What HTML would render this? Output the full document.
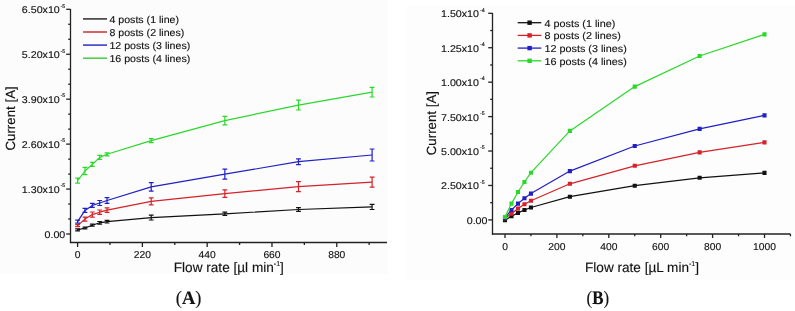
<!DOCTYPE html>
<html><head><meta charset="utf-8"><style>
html,body{margin:0;padding:0;background:#fff;width:795px;height:311px;overflow:hidden}
svg{display:block;will-change:transform;text-rendering:geometricPrecision}
.s text{stroke:#111;stroke-width:0.13px}
</style></head><body>
<svg class="s" width="795" height="311" viewBox="0 0 795 311">
<rect x="0" y="0" width="388" height="274.3" fill="#fcfcfc"/>
<rect x="406.3" y="6" width="389" height="274" fill="#fdfdfd"/>
<g stroke="#222" stroke-width="1.3" fill="none">
<line x1="70.5" y1="9" x2="70.5" y2="243.1"/>
<line x1="69.9" y1="242.5" x2="387" y2="242.5"/>
<line x1="66.2" y1="9.30" x2="70.5" y2="9.30"/>
<line x1="66.2" y1="54.24" x2="70.5" y2="54.24"/>
<line x1="66.2" y1="99.18" x2="70.5" y2="99.18"/>
<line x1="66.2" y1="144.12" x2="70.5" y2="144.12"/>
<line x1="66.2" y1="189.06" x2="70.5" y2="189.06"/>
<line x1="66.2" y1="234.00" x2="70.5" y2="234.00"/>
<line x1="68.2" y1="24.28" x2="70.5" y2="24.28"/>
<line x1="68.2" y1="39.26" x2="70.5" y2="39.26"/>
<line x1="68.2" y1="69.22" x2="70.5" y2="69.22"/>
<line x1="68.2" y1="84.20" x2="70.5" y2="84.20"/>
<line x1="68.2" y1="114.16" x2="70.5" y2="114.16"/>
<line x1="68.2" y1="129.14" x2="70.5" y2="129.14"/>
<line x1="68.2" y1="159.10" x2="70.5" y2="159.10"/>
<line x1="68.2" y1="174.08" x2="70.5" y2="174.08"/>
<line x1="68.2" y1="204.04" x2="70.5" y2="204.04"/>
<line x1="68.2" y1="219.02" x2="70.5" y2="219.02"/>
<line x1="77.60" y1="242.5" x2="77.60" y2="247.0"/>
<line x1="142.39" y1="242.5" x2="142.39" y2="247.0"/>
<line x1="207.18" y1="242.5" x2="207.18" y2="247.0"/>
<line x1="271.97" y1="242.5" x2="271.97" y2="247.0"/>
<line x1="336.76" y1="242.5" x2="336.76" y2="247.0"/>
<line x1="109.99" y1="242.5" x2="109.99" y2="245.0"/>
<line x1="174.78" y1="242.5" x2="174.78" y2="245.0"/>
<line x1="239.57" y1="242.5" x2="239.57" y2="245.0"/>
<line x1="304.37" y1="242.5" x2="304.37" y2="245.0"/>
<line x1="369.15" y1="242.5" x2="369.15" y2="245.0"/>
</g>
<text font-family="Liberation Sans, sans-serif" font-size="9.8" fill="#111" text-anchor="end" transform="translate(59.80,13.30) scale(1.09,1)">6.50x10</text>
<text font-family="Liberation Sans, sans-serif" font-size="5.3" fill="#111" text-anchor="end" transform="translate(65.30,7.60) scale(1.0,1)">-5</text>
<text font-family="Liberation Sans, sans-serif" font-size="9.8" fill="#111" text-anchor="end" transform="translate(59.80,58.24) scale(1.09,1)">5.20x10</text>
<text font-family="Liberation Sans, sans-serif" font-size="5.3" fill="#111" text-anchor="end" transform="translate(65.30,52.54) scale(1.0,1)">-5</text>
<text font-family="Liberation Sans, sans-serif" font-size="9.8" fill="#111" text-anchor="end" transform="translate(59.80,103.18) scale(1.09,1)">3.90x10</text>
<text font-family="Liberation Sans, sans-serif" font-size="5.3" fill="#111" text-anchor="end" transform="translate(65.30,97.48) scale(1.0,1)">-5</text>
<text font-family="Liberation Sans, sans-serif" font-size="9.8" fill="#111" text-anchor="end" transform="translate(59.80,148.12) scale(1.09,1)">2.60x10</text>
<text font-family="Liberation Sans, sans-serif" font-size="5.3" fill="#111" text-anchor="end" transform="translate(65.30,142.42) scale(1.0,1)">-5</text>
<text font-family="Liberation Sans, sans-serif" font-size="9.8" fill="#111" text-anchor="end" transform="translate(59.80,193.06) scale(1.09,1)">1.30x10</text>
<text font-family="Liberation Sans, sans-serif" font-size="5.3" fill="#111" text-anchor="end" transform="translate(65.30,187.36) scale(1.0,1)">-5</text>
<text font-family="Liberation Sans, sans-serif" font-size="9.8" fill="#111" text-anchor="end" transform="translate(65.30,238.00) scale(1.09,1)">0.00</text>
<text font-family="Liberation Sans, sans-serif" font-size="10.0" fill="#111" text-anchor="middle" transform="translate(77.60,258.00) scale(1.03,1)">0</text>
<text font-family="Liberation Sans, sans-serif" font-size="10.0" fill="#111" text-anchor="middle" transform="translate(142.39,258.00) scale(1.03,1)">220</text>
<text font-family="Liberation Sans, sans-serif" font-size="10.0" fill="#111" text-anchor="middle" transform="translate(207.18,258.00) scale(1.03,1)">440</text>
<text font-family="Liberation Sans, sans-serif" font-size="10.0" fill="#111" text-anchor="middle" transform="translate(271.97,258.00) scale(1.03,1)">660</text>
<text font-family="Liberation Sans, sans-serif" font-size="10.0" fill="#111" text-anchor="middle" transform="translate(336.76,258.00) scale(1.03,1)">880</text>
<text font-family="Liberation Sans, sans-serif" font-size="13.6" fill="#111" x="173.8" y="272">Flow rate [µl min<tspan font-size="7" dy="-6">-1</tspan><tspan dy="6">]</tspan></text>
<text font-family="Liberation Sans, sans-serif" font-size="13.3" fill="#111" transform="translate(15.3,150.6) rotate(-90)">Current [A]</text>
<polyline points="77.60,229.90 84.96,228.00 92.32,225.20 99.69,222.80 107.05,221.70 151.22,217.60 224.85,213.80 298.48,209.50 372.10,206.90" fill="none" stroke="#111" stroke-width="1.2" stroke-linejoin="round"/>
<path d="M77.60 228.90V230.90M75.20 228.90H80.00M75.20 230.90H80.00M84.96 227.20V228.80M82.56 227.20H87.36M82.56 228.80H87.36M92.32 224.20V226.20M89.92 224.20H94.72M89.92 226.20H94.72M99.69 221.50V224.10M97.29 221.50H102.09M97.29 224.10H102.09M107.05 220.40V223.00M104.65 220.40H109.45M104.65 223.00H109.45M151.22 215.20V220.00M148.82 215.20H153.62M148.82 220.00H153.62M224.85 212.20V215.40M222.45 212.20H227.25M222.45 215.40H227.25M298.48 207.60V211.40M296.08 207.60H300.88M296.08 211.40H300.88M372.10 204.30V209.50M369.70 204.30H374.50M369.70 209.50H374.50" stroke="#111" stroke-width="1.2" fill="none"/>
<polyline points="77.60,225.60 84.96,219.10 92.32,214.60 99.69,212.20 107.05,210.10 151.22,201.30 224.85,193.60 298.48,186.60 372.10,182.10" fill="none" stroke="#d42228" stroke-width="1.2" stroke-linejoin="round"/>
<path d="M77.60 224.60V226.60M75.20 224.60H80.00M75.20 226.60H80.00M84.96 217.10V221.10M82.56 217.10H87.36M82.56 221.10H87.36M92.32 212.00V217.20M89.92 212.00H94.72M89.92 217.20H94.72M99.69 210.00V214.40M97.29 210.00H102.09M97.29 214.40H102.09M107.05 207.90V212.30M104.65 207.90H109.45M104.65 212.30H109.45M151.22 197.80V204.80M148.82 197.80H153.62M148.82 204.80H153.62M224.85 189.90V197.30M222.45 189.90H227.25M222.45 197.30H227.25M298.48 181.60V191.60M296.08 181.60H300.88M296.08 191.60H300.88M372.10 177.10V187.10M369.70 177.10H374.50M369.70 187.10H374.50" stroke="#d42228" stroke-width="1.2" fill="none"/>
<polyline points="77.60,221.70 84.96,210.40 92.32,205.40 99.69,203.00 107.05,200.50 151.22,186.90 224.85,174.20 298.48,161.70 372.10,155.00" fill="none" stroke="#2020c4" stroke-width="1.2" stroke-linejoin="round"/>
<path d="M77.60 220.20V223.20M75.20 220.20H80.00M75.20 223.20H80.00M84.96 208.40V212.40M82.56 208.40H87.36M82.56 212.40H87.36M92.32 203.40V207.40M89.92 203.40H94.72M89.92 207.40H94.72M99.69 200.50V205.50M97.29 200.50H102.09M97.29 205.50H102.09M107.05 197.70V203.30M104.65 197.70H109.45M104.65 203.30H109.45M151.22 182.60V191.20M148.82 182.60H153.62M148.82 191.20H153.62M224.85 169.20V179.20M222.45 169.20H227.25M222.45 179.20H227.25M298.48 158.80V164.60M296.08 158.80H300.88M296.08 164.60H300.88M372.10 149.00V161.00M369.70 149.00H374.50M369.70 161.00H374.50" stroke="#2020c4" stroke-width="1.2" fill="none"/>
<polyline points="77.60,180.60 84.96,171.00 92.32,164.40 99.69,157.40 107.05,154.30 151.22,140.60 224.85,120.60 298.48,105.10 372.10,92.20" fill="none" stroke="#2ad82a" stroke-width="1.2" stroke-linejoin="round"/>
<path d="M77.60 178.10V183.10M75.20 178.10H80.00M75.20 183.10H80.00M84.96 167.40V174.60M82.56 167.40H87.36M82.56 174.60H87.36M92.32 162.40V166.40M89.92 162.40H94.72M89.92 166.40H94.72M99.69 155.40V159.40M97.29 155.40H102.09M97.29 159.40H102.09M107.05 152.80V155.80M104.65 152.80H109.45M104.65 155.80H109.45M151.22 138.60V142.60M148.82 138.60H153.62M148.82 142.60H153.62M224.85 116.30V124.90M222.45 116.30H227.25M222.45 124.90H227.25M298.48 100.20V110.00M296.08 100.20H300.88M296.08 110.00H300.88M372.10 87.40V97.00M369.70 87.40H374.50M369.70 97.00H374.50" stroke="#2ad82a" stroke-width="1.2" fill="none"/>
<line x1="83" y1="18.90" x2="107" y2="18.90" stroke="#3a3a3a" stroke-width="1.6"/>
<text font-family="Liberation Sans, sans-serif" font-size="10.0" fill="#111" text-anchor="start" transform="translate(109.40,22.60) scale(1.062,1)">4 posts (1 line)</text>
<line x1="83" y1="32.00" x2="107" y2="32.00" stroke="#cc3c40" stroke-width="1.6"/>
<text font-family="Liberation Sans, sans-serif" font-size="10.0" fill="#111" text-anchor="start" transform="translate(109.40,35.70) scale(1.062,1)">8 posts (2 lines)</text>
<line x1="83" y1="45.10" x2="107" y2="45.10" stroke="#3c3ccc" stroke-width="1.6"/>
<text font-family="Liberation Sans, sans-serif" font-size="10.0" fill="#111" text-anchor="start" transform="translate(109.40,48.80) scale(1.062,1)">12 posts (3 lines)</text>
<line x1="83" y1="58.20" x2="107" y2="58.20" stroke="#4cd24c" stroke-width="1.6"/>
<text font-family="Liberation Sans, sans-serif" font-size="10.0" fill="#111" text-anchor="start" transform="translate(109.40,61.90) scale(1.062,1)">16 posts (4 lines)</text>
<g stroke="#222" stroke-width="1.3" fill="none">
<line x1="492.5" y1="13" x2="492.5" y2="234.6"/>
<line x1="491.9" y1="234" x2="790.5" y2="234"/>
<line x1="488.2" y1="13.30" x2="492.5" y2="13.30"/>
<line x1="488.2" y1="47.73" x2="492.5" y2="47.73"/>
<line x1="488.2" y1="82.17" x2="492.5" y2="82.17"/>
<line x1="488.2" y1="116.60" x2="492.5" y2="116.60"/>
<line x1="488.2" y1="151.03" x2="492.5" y2="151.03"/>
<line x1="488.2" y1="185.47" x2="492.5" y2="185.47"/>
<line x1="488.2" y1="219.90" x2="492.5" y2="219.90"/>
<line x1="490.2" y1="30.52" x2="492.5" y2="30.52"/>
<line x1="490.2" y1="64.95" x2="492.5" y2="64.95"/>
<line x1="490.2" y1="99.38" x2="492.5" y2="99.38"/>
<line x1="490.2" y1="133.82" x2="492.5" y2="133.82"/>
<line x1="490.2" y1="168.25" x2="492.5" y2="168.25"/>
<line x1="490.2" y1="202.68" x2="492.5" y2="202.68"/>
<line x1="505.00" y1="234" x2="505.00" y2="238"/>
<line x1="556.90" y1="234" x2="556.90" y2="238"/>
<line x1="608.80" y1="234" x2="608.80" y2="238"/>
<line x1="660.70" y1="234" x2="660.70" y2="238"/>
<line x1="712.60" y1="234" x2="712.60" y2="238"/>
<line x1="764.50" y1="234" x2="764.50" y2="238"/>
<line x1="530.95" y1="234" x2="530.95" y2="236.3"/>
<line x1="582.85" y1="234" x2="582.85" y2="236.3"/>
<line x1="634.75" y1="234" x2="634.75" y2="236.3"/>
<line x1="686.65" y1="234" x2="686.65" y2="236.3"/>
<line x1="738.55" y1="234" x2="738.55" y2="236.3"/>
<line x1="790.45" y1="234" x2="790.45" y2="236.3"/>
</g>
<text font-family="Liberation Sans, sans-serif" font-size="9.8" fill="#111" text-anchor="end" transform="translate(479.00,17.30) scale(1.09,1)">1.50x10</text>
<text font-family="Liberation Sans, sans-serif" font-size="5.3" fill="#111" text-anchor="end" transform="translate(484.60,11.50) scale(1.0,1)">-4</text>
<text font-family="Liberation Sans, sans-serif" font-size="9.8" fill="#111" text-anchor="end" transform="translate(479.00,51.73) scale(1.09,1)">1.25x10</text>
<text font-family="Liberation Sans, sans-serif" font-size="5.3" fill="#111" text-anchor="end" transform="translate(484.60,45.93) scale(1.0,1)">-4</text>
<text font-family="Liberation Sans, sans-serif" font-size="9.8" fill="#111" text-anchor="end" transform="translate(479.00,86.17) scale(1.09,1)">1.00x10</text>
<text font-family="Liberation Sans, sans-serif" font-size="5.3" fill="#111" text-anchor="end" transform="translate(484.60,80.37) scale(1.0,1)">-4</text>
<text font-family="Liberation Sans, sans-serif" font-size="9.8" fill="#111" text-anchor="end" transform="translate(479.00,120.60) scale(1.09,1)">7.50x10</text>
<text font-family="Liberation Sans, sans-serif" font-size="5.3" fill="#111" text-anchor="end" transform="translate(484.60,114.80) scale(1.0,1)">-5</text>
<text font-family="Liberation Sans, sans-serif" font-size="9.8" fill="#111" text-anchor="end" transform="translate(479.00,155.03) scale(1.09,1)">5.00x10</text>
<text font-family="Liberation Sans, sans-serif" font-size="5.3" fill="#111" text-anchor="end" transform="translate(484.60,149.23) scale(1.0,1)">-5</text>
<text font-family="Liberation Sans, sans-serif" font-size="9.8" fill="#111" text-anchor="end" transform="translate(479.00,189.47) scale(1.09,1)">2.50x10</text>
<text font-family="Liberation Sans, sans-serif" font-size="5.3" fill="#111" text-anchor="end" transform="translate(484.60,183.67) scale(1.0,1)">-5</text>
<text font-family="Liberation Sans, sans-serif" font-size="9.8" fill="#111" text-anchor="end" transform="translate(487.50,223.90) scale(1.09,1)">0.00</text>
<text font-family="Liberation Sans, sans-serif" font-size="10.0" fill="#111" text-anchor="middle" transform="translate(505.00,249.50) scale(1.03,1)">0</text>
<text font-family="Liberation Sans, sans-serif" font-size="10.0" fill="#111" text-anchor="middle" transform="translate(556.90,249.50) scale(1.03,1)">200</text>
<text font-family="Liberation Sans, sans-serif" font-size="10.0" fill="#111" text-anchor="middle" transform="translate(608.80,249.50) scale(1.03,1)">400</text>
<text font-family="Liberation Sans, sans-serif" font-size="10.0" fill="#111" text-anchor="middle" transform="translate(660.70,249.50) scale(1.03,1)">600</text>
<text font-family="Liberation Sans, sans-serif" font-size="10.0" fill="#111" text-anchor="middle" transform="translate(712.60,249.50) scale(1.03,1)">800</text>
<text font-family="Liberation Sans, sans-serif" font-size="10.0" fill="#111" text-anchor="middle" transform="translate(764.50,249.50) scale(1.03,1)">1000</text>
<text font-family="Liberation Sans, sans-serif" font-size="13.6" fill="#111" x="585" y="272.3">Flow rate [µL min<tspan font-size="7" dy="-6">-1</tspan><tspan dy="6">]</tspan></text>
<text font-family="Liberation Sans, sans-serif" font-size="13.3" fill="#111" transform="translate(436.2,155.3) rotate(-90)">Current [A]</text>
<polyline points="505.00,220.20 511.49,216.30 517.98,212.90 524.46,210.00 530.95,207.50 569.88,196.70 634.75,185.70 699.62,177.80 764.50,172.90" fill="none" stroke="#111" stroke-width="1.2" stroke-linejoin="round"/>
<path d="M502.95 218.15h4.1v4.1h-4.1zM509.44 214.25h4.1v4.1h-4.1zM515.93 210.85h4.1v4.1h-4.1zM522.41 207.95h4.1v4.1h-4.1zM528.90 205.45h4.1v4.1h-4.1zM567.83 194.65h4.1v4.1h-4.1zM632.70 183.65h4.1v4.1h-4.1zM697.58 175.75h4.1v4.1h-4.1zM762.45 170.85h4.1v4.1h-4.1z" fill="#111"/>
<polyline points="505.00,218.30 511.49,213.80 517.98,208.50 524.46,204.20 530.95,200.70 569.88,183.80 634.75,165.80 699.62,152.40 764.50,142.40" fill="none" stroke="#d42228" stroke-width="1.2" stroke-linejoin="round"/>
<path d="M502.95 216.25h4.1v4.1h-4.1zM509.44 211.75h4.1v4.1h-4.1zM515.93 206.45h4.1v4.1h-4.1zM522.41 202.15h4.1v4.1h-4.1zM528.90 198.65h4.1v4.1h-4.1zM567.83 181.75h4.1v4.1h-4.1zM632.70 163.75h4.1v4.1h-4.1zM697.58 150.35h4.1v4.1h-4.1zM762.45 140.35h4.1v4.1h-4.1z" fill="#d42228"/>
<polyline points="505.00,217.70 511.49,210.00 517.98,203.60 524.46,198.20 530.95,193.60 569.88,171.10 634.75,146.00 699.62,128.90 764.50,115.40" fill="none" stroke="#2020c4" stroke-width="1.2" stroke-linejoin="round"/>
<path d="M502.95 215.65h4.1v4.1h-4.1zM509.44 207.95h4.1v4.1h-4.1zM515.93 201.55h4.1v4.1h-4.1zM522.41 196.15h4.1v4.1h-4.1zM528.90 191.55h4.1v4.1h-4.1zM567.83 169.05h4.1v4.1h-4.1zM632.70 143.95h4.1v4.1h-4.1zM697.58 126.85h4.1v4.1h-4.1zM762.45 113.35h4.1v4.1h-4.1z" fill="#2020c4"/>
<polyline points="505.00,217.00 511.49,203.60 517.98,192.00 524.46,182.00 530.95,172.70 569.88,130.90 634.75,86.60 699.62,56.00 764.50,34.40" fill="none" stroke="#2ad82a" stroke-width="1.2" stroke-linejoin="round"/>
<path d="M502.95 214.95h4.1v4.1h-4.1zM509.44 201.55h4.1v4.1h-4.1zM515.93 189.95h4.1v4.1h-4.1zM522.41 179.95h4.1v4.1h-4.1zM528.90 170.65h4.1v4.1h-4.1zM567.83 128.85h4.1v4.1h-4.1zM632.70 84.55h4.1v4.1h-4.1zM697.58 53.95h4.1v4.1h-4.1zM762.45 32.35h4.1v4.1h-4.1z" fill="#2ad82a"/>
<line x1="517.7" y1="22.7" x2="541.3" y2="22.7" stroke="#111" stroke-width="1.3"/>
<rect x="527.40" y="20.50" width="4.4" height="4.4" fill="#111"/>
<text font-family="Liberation Sans, sans-serif" font-size="10.0" fill="#111" text-anchor="start" transform="translate(544.50,26.60) scale(1.08,1)">4 posts (1 line)</text>
<line x1="517.7" y1="35.4" x2="541.3" y2="35.4" stroke="#d42228" stroke-width="1.3"/>
<rect x="527.40" y="33.20" width="4.4" height="4.4" fill="#d42228"/>
<text font-family="Liberation Sans, sans-serif" font-size="10.0" fill="#111" text-anchor="start" transform="translate(544.50,39.30) scale(1.08,1)">8 posts (2 lines)</text>
<line x1="517.7" y1="48.1" x2="541.3" y2="48.1" stroke="#2020c4" stroke-width="1.3"/>
<rect x="527.40" y="45.90" width="4.4" height="4.4" fill="#2020c4"/>
<text font-family="Liberation Sans, sans-serif" font-size="10.0" fill="#111" text-anchor="start" transform="translate(544.50,52.00) scale(1.08,1)">12 posts (3 lines)</text>
<line x1="517.7" y1="60.8" x2="541.3" y2="60.8" stroke="#2ad82a" stroke-width="1.3"/>
<rect x="527.40" y="58.60" width="4.4" height="4.4" fill="#2ad82a"/>
<text font-family="Liberation Sans, sans-serif" font-size="10.0" fill="#111" text-anchor="start" transform="translate(544.50,64.70) scale(1.08,1)">16 posts (4 lines)</text>
<text font-family="Liberation Serif, serif" font-weight="bold" font-size="19" fill="#111" transform="translate(175.8,304.2) scale(0.97,1)"><tspan font-weight="normal">(</tspan>A<tspan font-weight="normal">)</tspan></text>
<text font-family="Liberation Serif, serif" font-weight="bold" font-size="19" fill="#111" transform="translate(586.6,304.2) scale(0.89,1)"><tspan font-weight="normal">(</tspan>B<tspan font-weight="normal">)</tspan></text>
</svg>
</body></html>
